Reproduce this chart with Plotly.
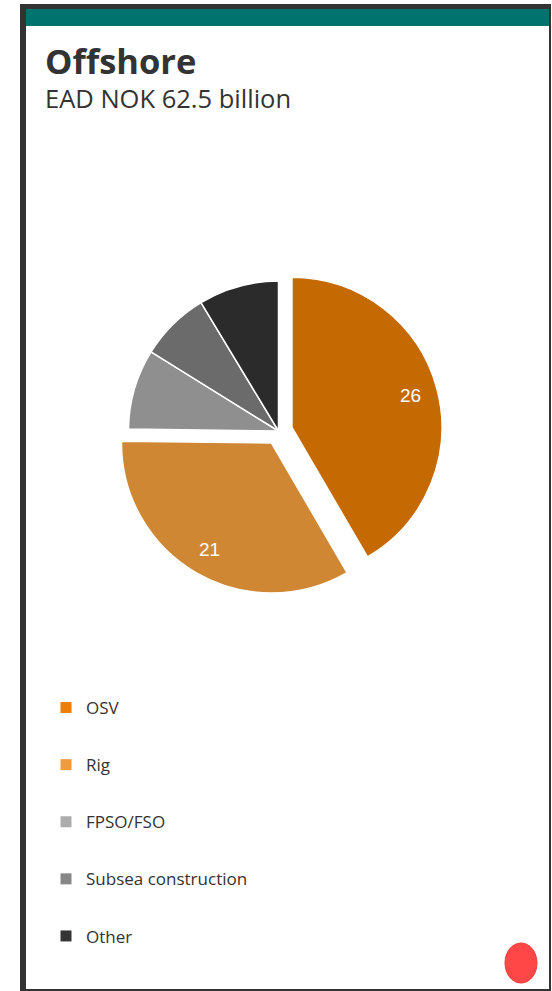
import math
import plotly.graph_objects as go

W, H = 552, 991

categories = ["OSV", "Rig", "FPSO/FSO", "Subsea construction", "Other"]
values = [26, 21, 5.4, 4.7, 5.4]
slice_labels = ["26", "21", "", "", ""]
pulls = [0.093, 0.093, 0, 0, 0]
slice_colors = ["#c56a03", "#cf8734", "#8f8f8f", "#6b6b6b", "#2b2b2b"]
legend_colors = ["#ee7d00", "#f39a3b", "#acacac", "#878787", "#343434"]
title_text = "Offshore"
subtitle_text = "EAD NOK 62.5 billion"


def px(x):
    return x / W


def py(y):
    return 1 - y / H


fig = go.Figure()

# pie geometry (pixels): centre, radius; plotly shrinks radius by (1 + max pull)
cx, cy, radius = 278.5, 431, 150
half = radius * (1 + max(pulls))
fig.add_trace(go.Pie(
    labels=categories,
    values=values,
    textinfo="none",
    pull=pulls,
    sort=False,
    direction="clockwise",
    rotation=0,
    marker=dict(colors=slice_colors, line=dict(color="white", width=1.5)),
    showlegend=False,
    hoverinfo="label+value",
    domain=dict(x=[px(cx - half), px(cx + half)], y=[py(cy + half), py(cy - half)]),
))

# value labels placed along each slice's mid angle (derived from the values)
annotations = []
total = sum(values)
start = 0.0
for v, lab, pull in zip(values, slice_labels, pulls):
    ang = (start + v / 2) / total * 2 * math.pi
    start += v
    if not lab:
        continue
    dist = radius * (pull + 0.82)
    lx = cx + dist * math.sin(ang)
    ly = cy - dist * math.cos(ang)
    annotations.append(dict(text=lab, x=px(lx), y=py(ly), xref="paper", yref="paper",
                            xanchor="center", yanchor="middle", showarrow=False,
                            font=dict(family="Liberation Sans, Arial", size=19, color="white")))

for i, (name, col) in enumerate(zip(categories, legend_colors)):
    fig.add_trace(go.Scatter(
        x=[None], y=[None], mode="markers", name=name,
        marker=dict(symbol="square", size=11, color=col),
        legendgroup=f"g{i}", showlegend=True,
    ))

shapes = [
    dict(type="rect", xref="paper", yref="paper", x0=px(20), x1=px(551), y0=py(991), y1=py(4),
         fillcolor="#333333", line=dict(width=0), layer="below"),
    dict(type="rect", xref="paper", yref="paper", x0=px(26), x1=px(549), y0=py(989), y1=py(9),
         fillcolor="white", line=dict(width=0), layer="below"),
    dict(type="rect", xref="paper", yref="paper", x0=px(26), x1=px(549), y0=py(26), y1=py(9),
         fillcolor="#00736f", line=dict(width=0), layer="below"),
    dict(type="circle", xref="paper", yref="paper", x0=px(505), x1=px(537), y0=py(983), y1=py(943),
         fillcolor="#ff4747", line=dict(color="#f23a3a", width=1), layer="above"),
]

annotations += [
    dict(text=f"<b>{title_text}</b>", x=px(43), y=py(61), xref="paper", yref="paper",
         xanchor="left", yanchor="middle", showarrow=False,
         font=dict(family="Open Sans", size=34.5, color="#333333")),
    dict(text=subtitle_text, x=px(43), y=py(98), xref="paper", yref="paper",
         xanchor="left", yanchor="middle", showarrow=False,
         font=dict(family="Open Sans", size=25.5, color="#333333")),
]

fig.update_layout(
    width=W, height=H,
    margin=dict(l=0, r=0, t=0, b=0),
    paper_bgcolor="white", plot_bgcolor="rgba(0,0,0,0)",
    xaxis=dict(visible=False, range=[0, 1]),
    yaxis=dict(visible=False, range=[0, 1]),
    shapes=shapes,
    annotations=annotations,
    legend=dict(x=px(46), y=py(690), xanchor="left", yanchor="top",
                font=dict(family="Open Sans", size=17, color="#333333"),
                tracegroupgap=32, bgcolor="rgba(0,0,0,0)", itemclick=False),
    hovermode=False,
)

fig.write_html("out.html", config={"displayModeBar": False},
               post_script="document.body.style.margin='0';")
